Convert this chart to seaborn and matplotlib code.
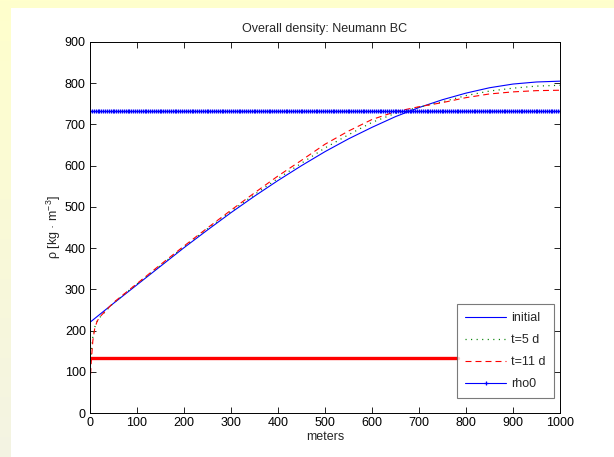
import numpy as np
import pandas as pd
import matplotlib
matplotlib.use("Agg")
import matplotlib.pyplot as plt
from matplotlib.patches import Rectangle
import seaborn as sns

# ---- data ----
x_initial = [0, 50, 100, 150, 200, 250, 300, 350, 400, 450, 500,
             550, 600, 650, 700, 750, 800, 850, 900, 950, 1000]
rho_initial = [220, 266, 311, 356, 401, 444, 486, 526, 564, 600, 634,
               665, 693, 719, 741, 760, 776, 789, 798, 803, 805]

x_t = [0, 3, 6, 10, 15, 20, 50, 100, 150, 200, 250, 300, 350, 400, 450,
       500, 550, 600, 650, 700, 750, 800, 850, 900, 950, 1000]
rho_t5 = [115, 150, 185, 208, 222, 231, 267, 313, 358, 403, 447, 489, 530,
          569, 606, 643, 675, 705, 727, 742, 755, 770, 781, 788, 793, 795]
rho_t11 = [70, 130, 175, 205, 222, 232, 268, 314, 360, 405, 449, 492, 534,
           575, 613, 652, 684, 712, 731, 743, 753, 765, 774, 779, 782, 783]

rho0_x = list(range(0, 1001, 4))
rho0_value = 733

red_bar_x = [0, 783]
red_bar_value = 133

title = "Overall density: Neumann BC"
xlabel = "meters"
ylabel = "ρ [kg · m$^{-3}$]"
legend_labels = ["initial", "t=5 d", "t=11 d", "rho0"]

# ---- style ----
sns.set_theme(style="ticks")
plt.rcParams["font.family"] = ["Liberation Sans", "DejaVu Sans"]
plt.rcParams["mathtext.fontset"] = "custom"
plt.rcParams["mathtext.rm"] = "Liberation Sans"
plt.rcParams["mathtext.it"] = "Liberation Sans"
plt.rcParams["lines.scale_dashes"] = False

W, H = 614, 457
fig = plt.figure(figsize=(W / 100, H / 100), dpi=100)

# page background: yellow band with gradient on the left, white panel
bg = fig.add_axes([0, 0, 1, 1], zorder=-10)
grad = np.linspace(0, 1, 200)[:, None]
top = np.array([1.0, 1.0, 0.80])
bot = np.array([0.955, 0.955, 0.89])
img = top[None, None, :] * (1 - grad[:, :, None]) + bot[None, None, :] * grad[:, :, None]
bg.imshow(img, aspect="auto", extent=[0, 1, 0, 1])
bg.set_xlim(0, 1)
bg.set_ylim(0, 1)
bg.axis("off")
fig.patches.append(Rectangle((11 / W, 0), 1, 1 - 8 / H, transform=fig.transFigure,
                             facecolor="white", edgecolor="none", zorder=-5))

ax = fig.add_axes([90 / W, (H - 413) / H, 470 / W, 371 / H])
ax.set_facecolor("white")

df_init = pd.DataFrame({"x": x_initial, "rho": rho_initial})
df_t = pd.DataFrame({"x": x_t, "t5": rho_t5, "t11": rho_t11})
df_rho0 = pd.DataFrame({"x": rho0_x, "rho": [rho0_value] * len(rho0_x)})
df_red = pd.DataFrame({"x": red_bar_x, "rho": [red_bar_value] * len(red_bar_x)})

blue = (0, 0, 1)
sns.lineplot(data=df_init, x="x", y="rho", ax=ax, color=blue, lw=0.8,
             label=legend_labels[0])
sns.lineplot(data=df_t, x="x", y="t5", ax=ax, color=(0, 0.5, 0), lw=0.9,
             linestyle=(0, (0.8, 3.2)), label=legend_labels[1])
sns.lineplot(data=df_t, x="x", y="t11", ax=ax, color=(1, 0, 0), lw=0.8,
             linestyle=(0, (4.3, 2.9)), label=legend_labels[2])
sns.lineplot(data=df_rho0, x="x", y="rho", ax=ax, color=blue, lw=0.8,
             marker="+", markersize=3.2, markeredgewidth=0.9,
             markeredgecolor=blue, markerfacecolor=blue,
             label=legend_labels[3])
sns.lineplot(data=df_red, x="x", y="rho", ax=ax, color=(1, 0, 0), lw=2.4,
             label="_nolegend_")

ax.set_xlim(0, 1000)
ax.set_ylim(0, 900)
ax.set_xticks(range(0, 1001, 100))
ax.set_yticks(range(0, 901, 100))
ax.tick_params(direction="in", length=4, width=0.6, labelsize=9, colors="black",
               top=True, right=True, pad=3)
for s in ax.spines.values():
    s.set_visible(True)
    s.set_color("black")
    s.set_linewidth(0.7)

ax.set_title(title, fontsize=9, pad=7)
ax.set_xlabel(xlabel, fontsize=9, labelpad=1)
ax.set_ylabel(ylabel, fontsize=9, labelpad=1)

handles = ax.get_lines()[:4]
leg = ax.legend(handles=handles, labels=legend_labels, loc="lower right",
                bbox_to_anchor=(0.987, 0.04), borderaxespad=0, fontsize=9,
                frameon=True, fancybox=False, edgecolor="0.35",
                handlelength=3.3, handletextpad=0.4, labelspacing=0.8,
                borderpad=0.65, numpoints=1)
leg.get_frame().set_linewidth(0.8)

fig.savefig("out.png", dpi=100)
